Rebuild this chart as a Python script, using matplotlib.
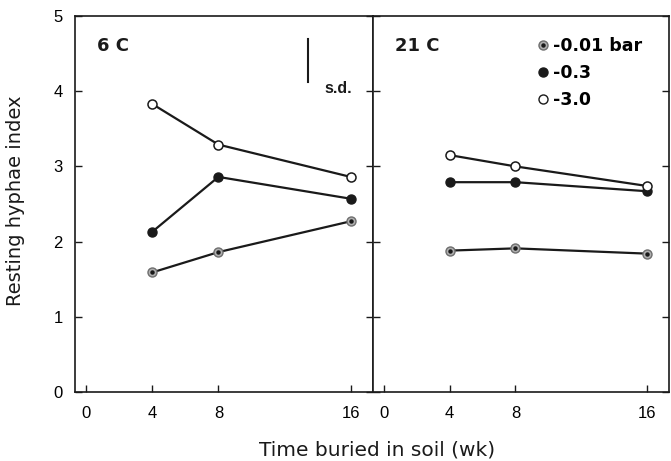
import matplotlib
matplotlib.use("Agg")
import matplotlib.pyplot as plt
from matplotlib.lines import Line2D

plt.rcParams['font.family'] = ['Liberation Sans', 'DejaVu Sans']

# data
weeks = [4, 8, 16]
x_ticks = [0, 4, 8, 16]
y_ticks = [0, 1, 2, 3, 4, 5]

cold_001 = [1.59, 1.86, 2.27]   # 6 C, -0.01 bar
cold_03 = [2.13, 2.86, 2.57]    # 6 C, -0.3
cold_30 = [3.83, 3.29, 2.86]    # 6 C, -3.0

warm_001 = [1.88, 1.91, 1.84]   # 21 C
warm_03 = [2.79, 2.79, 2.67]
warm_30 = [3.15, 3.00, 2.74]

panel_titles = ["6 C", "21 C"]
series_labels = ["-0.01 bar", "-0.3", "-3.0"]

# s.d. bar (left panel)
sd_x = 13.4
sd_low, sd_high = 4.12, 4.69

fig = plt.figure(figsize=(6.71, 4.61), dpi=100)
ax1 = fig.add_axes([0.1118, 0.1497, 0.4441, 0.8156])
ax2 = fig.add_axes([0.5559, 0.1497, 0.4411, 0.8156])

ink = '#1a1a1a'
lw = 1.6
ms = 6.5


def draw_series(ax, y001, y03, y30):
    # -0.01 bar: grey circle with a dark centre dot
    ax.plot(weeks, y001, color=ink, lw=lw, marker='o', ms=ms,
            mfc='#b0b0b0', mec='#6e6e6e', mew=1.0, zorder=3)
    ax.plot(weeks, y001, ls='none', marker='o', ms=2.2, color=ink, zorder=4)
    ax.plot(weeks, y03, color=ink, lw=lw, marker='o', ms=ms,
            mfc=ink, mec=ink, zorder=3)
    ax.plot(weeks, y30, color=ink, lw=lw, marker='o', ms=ms,
            mfc='white', mec=ink, mew=1.1, zorder=3)


draw_series(ax1, cold_001, cold_03, cold_30)
draw_series(ax2, warm_001, warm_03, warm_30)

for ax, title in zip([ax1, ax2], panel_titles):
    ax.set_xlim(-0.67, 17.35)
    ax.set_ylim(0, 5)
    ax.set_xticks(x_ticks)
    ax.set_yticks(y_ticks)
    ax.tick_params(direction='in', length=5, width=1.0, color=ink,
                   labelsize=12, pad=9, right=True)
    ax.tick_params(axis='x', pad=10)
    for sp in ax.spines.values():
        sp.set_linewidth(1.2)
        sp.set_color(ink)
    ax.text(0.67, 4.6, title, fontsize=13, fontweight='bold',
            family='DejaVu Sans', va='center', ha='left', color=ink)

ax2.tick_params(labelleft=False)

# s.d. bar
ax1.plot([sd_x, sd_x], [sd_low, sd_high], color=ink, lw=1.5)
ax1.text(sd_x + 1.0, 4.03, "s.d.", fontsize=11.5, fontweight='bold',
         va='center', ha='left', color=ink)

# legend (grey dot marker = two overlaid markers)
h001 = (Line2D([], [], ls='none', marker='o', ms=ms, mfc='#b0b0b0', mec='#6e6e6e'),
        Line2D([], [], ls='none', marker='o', ms=2.2, color=ink))
h03 = Line2D([], [], ls='none', marker='o', ms=ms, mfc=ink, mec=ink)
h30 = Line2D([], [], ls='none', marker='o', ms=ms, mfc='white', mec=ink)
leg = ax2.legend([h001, h03, h30], series_labels,
                 loc='upper left', bbox_to_anchor=(0.507, 0.985),
                 frameon=False, handlelength=0.5, handletextpad=0.35,
                 labelspacing=0.52,
                 prop={'size': 12.5, 'weight': 'bold', 'family': 'DejaVu Sans'})

fig.text(0.562, 1 - 450 / 461, "Time buried in soil (wk)", fontsize=14.5,
         family='DejaVu Sans', ha='center', va='center', color=ink)
fig.text(16 / 671, 1 - 201 / 461, "Resting hyphae index", fontsize=14,
         family='DejaVu Sans', rotation=90, ha='center', va='center', color=ink)

fig.savefig("out.png", dpi=100)
